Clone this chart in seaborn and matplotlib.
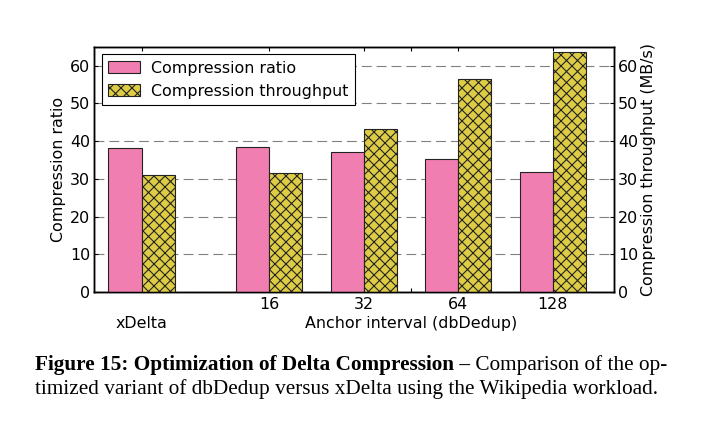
import pandas as pd
import matplotlib
matplotlib.use('Agg')
import matplotlib.pyplot as plt
import seaborn as sns

# values
labels = ['xDelta', '16', '32', '64', '128']
ratio = [38.1, 38.4, 37.1, 35.2, 31.9]
throughput = [31.1, 31.6, 43.2, 56.4, 63.7]
series = ['Compression ratio', 'Compression throughput']

# x layout (gap between xDelta and the dbDedup groups)
positions = [0, 1.35, 2.35, 3.35, 4.35]
anchor_pos = 2.85

DPI = 132
sns.set_style('ticks')
plt.rcParams['font.family'] = ['DejaVu Sans']
plt.rcParams.update({
    'font.size': 8.7,
    'xtick.direction': 'in',
    'ytick.direction': 'in',
    'axes.linewidth': 0.8,
    'axes.edgecolor': 'black',
    'hatch.linewidth': 0.6,
    'hatch.color': 'black',
    'xtick.color': 'black',
    'ytick.color': 'black',
    'text.color': 'black',
    'axes.labelcolor': 'black',
})

df = pd.DataFrame({
    'pos': positions + positions,
    'metric': [series[0]] * len(ratio) + [series[1]] * len(throughput),
    'value': ratio + throughput,
})

fig = plt.figure(figsize=(708 / DPI, 426 / DPI), dpi=DPI)
ax = fig.add_axes([94.3 / 708, 1 - 292 / 426, (614 - 94.3) / 708, (292 - 46.7) / 426])
ax2 = ax.twinx()

# bars on the twin so they sit above the gridlines
sns.barplot(data=df, x='pos', y='value', hue='metric', native_scale=True,
            width=0.7, palette=['#f07eb0', '#ddcc44'], saturation=1,
            edgecolor='#222222', linewidth=0.6, errorbar=None,
            legend=False, ax=ax2)
for p in ax2.containers[1]:
    p.set_hatch('xxxx')

for a in (ax, ax2):
    a.set_ylim(0, 65)
    a.set_yticks(range(0, 61, 10))
ax.set_xlim(-0.5, 5.0)
ax2.set_xlim(-0.5, 5.0)
ax2.set_xlabel('')

ax.yaxis.grid(True, linestyle=(0, (9, 4.5)), color='#808080', linewidth=0.6)

ax.set_xticks(positions[:3] + [anchor_pos] + positions[3:])
ax.set_xticklabels(['', '16', '32', '', '64', '128'])
ax.tick_params(axis='x', top=True, length=2.2, width=0.6, pad=2.5)
ax.tick_params(axis='y', length=2.2, width=0.6, pad=2.2)
ax2.tick_params(axis='y', length=2.2, width=0.6, pad=2.2)

# second row of x labels
xt = ax.get_xaxis_transform()
ax.text(positions[0], -0.128, labels[0], transform=xt, ha='center', va='center')
ax.text(anchor_pos, -0.128, 'Anchor interval (dbDedup)', transform=xt,
        ha='center', va='center')

ax.set_ylabel('Compression ratio', labelpad=2.4)
ax2.set_ylabel('Compression throughput (MB/s)', labelpad=1.6)

leg = ax2.legend(ax2.containers, series, loc='upper left', fancybox=False,
                 edgecolor='black', framealpha=1, borderaxespad=0.47,
                 handlelength=2.0, handleheight=0.75, handletextpad=0.7)
leg.get_frame().set_linewidth(0.6)

# caption
serif = ['Liberation Serif', 'DejaVu Serif']
cap_size = 11.6
t1 = fig.text(35 / 708, 1 - 370 / 426, 'Figure 15: Optimization of Delta Compression \u2013',
              family=serif, fontsize=cap_size, fontweight='bold', va='baseline')
fig.canvas.draw()
bb = t1.get_window_extent()
fig.text(bb.x1 / fig.bbox.width, 1 - 370 / 426, ' Comparison of the op-',
         family=serif, fontsize=cap_size, va='baseline')
fig.text(35 / 708, 1 - 394 / 426,
         'timized variant of dbDedup versus xDelta using the Wikipedia workload.',
         family=serif, fontsize=cap_size, va='baseline')

fig.savefig('out.png', dpi=DPI)
